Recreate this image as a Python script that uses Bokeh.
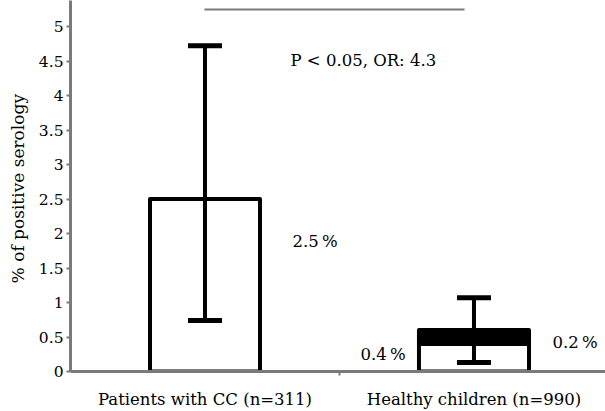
from bokeh.plotting import figure
from bokeh.models import Range1d, FixedTicker, ColumnDataSource, Whisker, TeeHead
from bokeh.core.properties import value
from bokeh.embed import file_html
from bokeh.resources import INLINE

# ---- data ----
categories = ["Patients with CC (n=311)", "Healthy children (n=990)"]
cat_pos = [0.5, 1.5]
bar_values = [2.5, 0.4]          # white part
stack_values = [0.0, 0.2]        # black stacked part
err_lower = [0.74, 0.13]
err_upper = [4.72, 1.07]
y_ticks = [0, 0.5, 1, 1.5, 2, 2.5, 3, 3.5, 4, 4.5, 5]
y_tick_labels = ["0", "0.5", "1", "1.5", "2", "2.5", "3", "3.5", "4", "4.5", "5"]

label_x = [0.825, 1.078, 1.792]
label_y = [1.884, 0.246, 0.42]
label_text = ["2.5\u2009%", "0.4\u2009%", "0.2\u2009%"]

stat_text = ["P < 0.05, OR: 4.3"]
stat_x = [0.818]
stat_y = [4.507]
bracket_x = [0.498, 1.465]
bracket_y = [5.246, 5.246]

SERIF = "DejaVu Serif"
GRAY = "#7a7a7a"

p = figure(width=605, height=411, output_backend="svg", toolbar_location=None,
           x_range=Range1d(0, 1.989), y_range=Range1d(0, 5.377),
           min_border_left=70, min_border_right=0, min_border_top=0, min_border_bottom=40)
p.outline_line_color = None
p.xgrid.visible = False
p.ygrid.visible = False

bar_width = 0.409
src = ColumnDataSource(dict(x=cat_pos, top=bar_values,
                            lower=err_lower, upper=err_upper))
p.vbar(x="x", bottom=0, top="top", width=bar_width, source=src,
       fill_color="white", line_color="black", line_width=4, line_join="round")
p.vbar(x=[cat_pos[1]], bottom=[bar_values[1]], top=[bar_values[1] + stack_values[1]],
       width=bar_width, fill_color="black", line_color="black", line_width=4, line_join="round")

w = Whisker(base="x", lower="lower", upper="upper", source=src, dimension="height",
            line_color="black", line_width=4, level="annotation",
            upper_head=TeeHead(size=34, line_width=5, line_color="black"),
            lower_head=TeeHead(size=34, line_width=5, line_color="black"))
p.add_layout(w)

p.line(bracket_x, bracket_y, line_color=GRAY, line_width=2)

p.text(label_x, label_y, text=label_text, text_font=value(SERIF), text_font_size="16.5px",
       text_align="left", text_baseline="middle", text_color="black")
p.text(stat_x, stat_y, text=stat_text, text_font=value(SERIF), text_font_size="16.5px",
       text_align="left", text_baseline="middle", text_color="black")

# y axis
p.yaxis.ticker = FixedTicker(ticks=y_ticks)
p.yaxis.major_label_overrides = {t: l for t, l in zip(y_ticks, y_tick_labels)}
p.yaxis.axis_label = "% of  positive serology"
p.yaxis.axis_label_text_font = SERIF
p.yaxis.axis_label_text_font_style = "normal"
p.yaxis.axis_label_text_font_size = "17px"
p.yaxis.axis_label_standoff = 8
p.yaxis.major_label_text_font = SERIF
p.yaxis.major_label_text_font_size = "15.5px"
p.yaxis.major_label_standoff = 3
p.yaxis.minor_tick_line_color = None

# x axis
p.xaxis.ticker = FixedTicker(ticks=cat_pos, minor_ticks=[1.0])
p.xaxis.major_label_overrides = {t: l for t, l in zip(cat_pos, categories)}
p.xaxis.major_label_text_font = SERIF
p.xaxis.major_label_text_font_size = "16.5px"
p.xaxis.major_label_standoff = 14
p.xaxis.major_tick_out = 0
p.xaxis.major_tick_in = 0
p.xaxis.minor_tick_out = 4
p.xaxis.minor_tick_in = 0

for ax in (p.xaxis, p.yaxis):
    ax.axis_line_color = GRAY
    ax.axis_line_width = 3
    ax.major_tick_line_color = GRAY
    ax.minor_tick_line_width = 2
    ax.major_tick_line_width = 2
    ax.major_label_text_color = "black"
    ax.axis_label_text_color = "black"
p.xaxis.minor_tick_line_color = GRAY
p.yaxis.major_tick_out = 4
p.yaxis.major_tick_in = 0

open("out.html", "w").write(file_html(p, INLINE))
